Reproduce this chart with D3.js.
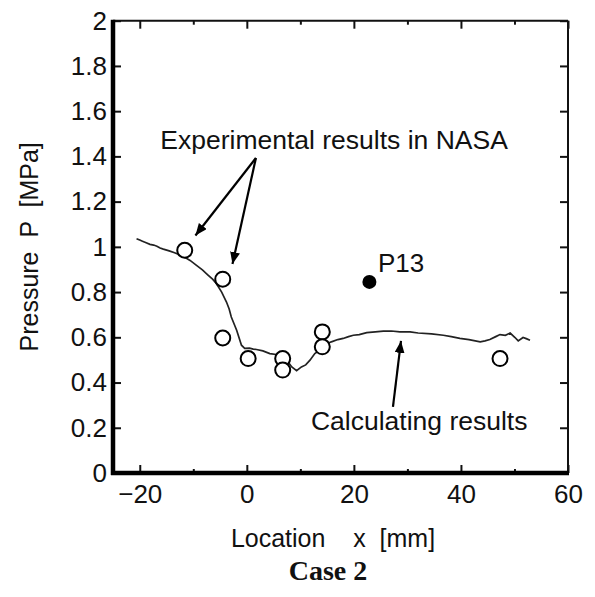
<!DOCTYPE html>
<html>
<head>
<meta charset="utf-8">
<script src="https://cdn.jsdelivr.net/npm/d3@7"></script>
<style>
  body { margin: 0; background: #fff; }
  text { font-family: "Liberation Sans", Arial, sans-serif; fill: #111; }
</style>
</head>
<body>
<div id="chart"></div>
<script>
// calculated pressure line
const calcX = [-20.6, -20.0, -19.5, -18.8, -18.1, -17.4, -16.8, -16.2, -15.6, -14.5, -13.5, -12.7, -11.9, -10.6, -9.4, -8.3, -7.2, -6.4, -5.7, -4.7, -3.8, -3.3, -2.9, -1.9, -1.0, -0.4, 0.5, 1.2, 1.8, 3.0, 4.3, 5.5, 6.3, 7.1, 7.8, 8.4, 9.3, 10.2, 11.0, 11.8, 12.7, 13.4, 14.0, 15.0, 15.8, 17.0, 18.0, 19.0, 19.9, 21.0, 22.4, 24.0, 25.5, 27.0, 28.6, 30.5, 32.0, 34.5, 36.7, 38.2, 39.8, 41.5, 43.6, 44.5, 45.4, 46.5, 47.3, 48.3, 49.2, 50.1, 50.7, 51.6, 52.2, 52.9];
const calcY = [1.036, 1.030, 1.025, 1.018, 1.011, 1.008, 1.003, 0.995, 0.990, 0.982, 0.974, 0.966, 0.958, 0.940, 0.918, 0.898, 0.874, 0.857, 0.838, 0.800, 0.756, 0.725, 0.690, 0.631, 0.565, 0.551, 0.552, 0.548, 0.546, 0.540, 0.528, 0.524, 0.512, 0.499, 0.488, 0.469, 0.452, 0.469, 0.478, 0.499, 0.528, 0.540, 0.565, 0.572, 0.580, 0.590, 0.595, 0.603, 0.609, 0.612, 0.621, 0.624, 0.627, 0.628, 0.624, 0.624, 0.619, 0.615, 0.609, 0.603, 0.595, 0.590, 0.580, 0.584, 0.590, 0.603, 0.612, 0.609, 0.619, 0.599, 0.584, 0.599, 0.594, 0.587];

// experimental results in NASA
const expX = [-11.6, -4.5, -4.5, 0.25, 6.7, 6.7, 14.1, 14.1, 47.3];
const expY = [0.985, 0.857, 0.597, 0.506, 0.506, 0.455, 0.624, 0.558, 0.506];

// P13 point
const p13X = 22.9;
const p13Y = 0.845;

const xTicks = [-20, 0, 20, 40, 60];
const xMinor = [-10, 10, 30, 50];
const yTicks = [0, 0.2, 0.4, 0.6, 0.8, 1, 1.2, 1.4, 1.6, 1.8, 2];

const W = 595, H = 597;
const pLeft = 113, pRight = 568, pTop = 20.7, pBottom = 473;

const svg = d3.select("#chart").append("svg")
  .attr("width", W)
  .attr("height", H);

const x = d3.scaleLinear().domain([-25, 60]).range([pLeft, pRight]);
const y = d3.scaleLinear().domain([0, 2]).range([pBottom, pTop]);

const fmtX = d => (d < 0 ? "\u2212" + Math.abs(d) : "" + d);

// axes (ticks pointing inward)
const gx = svg.append("g")
  .attr("transform", `translate(0,${pBottom})`)
  .call(d3.axisBottom(x).tickValues(xTicks).tickSize(-8).tickPadding(12).tickFormat(fmtX));
const gy = svg.append("g")
  .attr("transform", `translate(${pLeft},0)`)
  .call(d3.axisLeft(y).tickValues(yTicks).tickSize(-8).tickPadding(6).tickFormat(d3.format("~g")));
const gxt = svg.append("g")
  .attr("transform", `translate(0,${pTop})`)
  .call(d3.axisTop(x).tickValues(xTicks).tickSize(-8).tickFormat(""));
const gyr = svg.append("g")
  .attr("transform", `translate(${pRight},0)`)
  .call(d3.axisRight(y).tickValues(yTicks).tickSize(-8).tickFormat(""));
const gxm = svg.append("g")
  .attr("transform", `translate(0,${pBottom})`)
  .call(d3.axisBottom(x).tickValues(xMinor).tickSize(-4).tickFormat(""));
const gxmt = svg.append("g")
  .attr("transform", `translate(0,${pTop})`)
  .call(d3.axisTop(x).tickValues(xMinor).tickSize(-4).tickFormat(""));

[gx, gy, gxt, gyr, gxm, gxmt].forEach(g => {
  g.select(".domain").remove();
  g.selectAll("line").attr("stroke", "#111").attr("stroke-width", 2);
  g.selectAll("text").attr("font-size", 26).attr("font-family", "Liberation Sans, Arial, sans-serif").attr("fill", "#111");
});

// frame: thick left/bottom, thin top/right
svg.append("line").attr("x1", pLeft).attr("x2", pRight).attr("y1", pTop).attr("y2", pTop)
  .attr("stroke", "#111").attr("stroke-width", 2);
svg.append("line").attr("x1", pRight).attr("x2", pRight).attr("y1", pTop).attr("y2", pBottom)
  .attr("stroke", "#111").attr("stroke-width", 2);
svg.append("line").attr("x1", pLeft).attr("x2", pLeft).attr("y1", pTop - 1).attr("y2", pBottom + 2)
  .attr("stroke", "#000").attr("stroke-width", 4.5);
svg.append("line").attr("x1", pLeft - 2).attr("x2", pRight + 1).attr("y1", pBottom).attr("y2", pBottom)
  .attr("stroke", "#000").attr("stroke-width", 4.5);

// calculated line
const line = d3.line().x((d, i) => x(calcX[i])).y((d, i) => y(calcY[i]));
svg.append("path")
  .datum(calcX)
  .attr("d", line)
  .attr("fill", "none")
  .attr("stroke", "#222")
  .attr("stroke-width", 1.7);

// experimental circles
svg.append("g").selectAll("circle")
  .data(expX)
  .join("circle")
  .attr("cx", (d, i) => x(expX[i]))
  .attr("cy", (d, i) => y(expY[i]))
  .attr("r", 7.5)
  .attr("fill", "#fff")
  .attr("stroke", "#000")
  .attr("stroke-width", 2);

svg.append("circle")
  .attr("cx", x(p13X))
  .attr("cy", y(p13Y))
  .attr("r", 7)
  .attr("fill", "#000");

// annotations
svg.append("defs").append("marker")
  .attr("id", "arr")
  .attr("viewBox", "0 0 12 10")
  .attr("refX", 12).attr("refY", 5)
  .attr("markerWidth", 12).attr("markerHeight", 10)
  .attr("markerUnits", "userSpaceOnUse")
  .attr("orient", "auto")
  .append("path").attr("d", "M0,0 L12,5 L0,10 Z").attr("fill", "#000");

const arrows = [
  [1.7, 1.393, -9.6, 1.05],
  [1.7, 1.393, -2.68, 0.924],
  [27.3, 0.292, 28.8, 0.584]
];
svg.append("g").selectAll("line")
  .data(arrows)
  .join("line")
  .attr("x1", d => x(d[0])).attr("y1", d => y(d[1]))
  .attr("x2", d => x(d[2])).attr("y2", d => y(d[3]))
  .attr("stroke", "#000").attr("stroke-width", 2.2)
  .attr("marker-end", "url(#arr)");

svg.append("text")
  .attr("x", x(16.3)).attr("y", y(1.433))
  .attr("text-anchor", "middle").attr("font-size", 26.5)
  .text("Experimental results in NASA");

svg.append("text")
  .attr("x", x(32.2)).attr("y", y(0.19))
  .attr("text-anchor", "middle").attr("font-size", 26.5)
  .text("Calculating results");

svg.append("text")
  .attr("x", x(24.5)).attr("y", y(0.889))
  .attr("font-size", 26)
  .text("P13");

// axis labels
svg.append("text")
  .attr("x", 333).attr("y", 547)
  .attr("text-anchor", "middle").attr("font-size", 25)
  .style("white-space", "pre")
  .text("Location    x  [mm]");

svg.append("text")
  .attr("transform", `translate(38,${(pTop + pBottom) / 2}) rotate(-90)`)
  .attr("text-anchor", "middle").attr("font-size", 25)
  .style("white-space", "pre")
  .text("Pressure  P  [MPa]");

svg.append("text")
  .attr("x", 328).attr("y", 580)
  .attr("text-anchor", "middle")
  .attr("font-size", 28).attr("font-weight", "bold")
  .style("font-family", "'Liberation Serif', 'Times New Roman', serif")
  .text("Case 2");
</script>
</body>
</html>
